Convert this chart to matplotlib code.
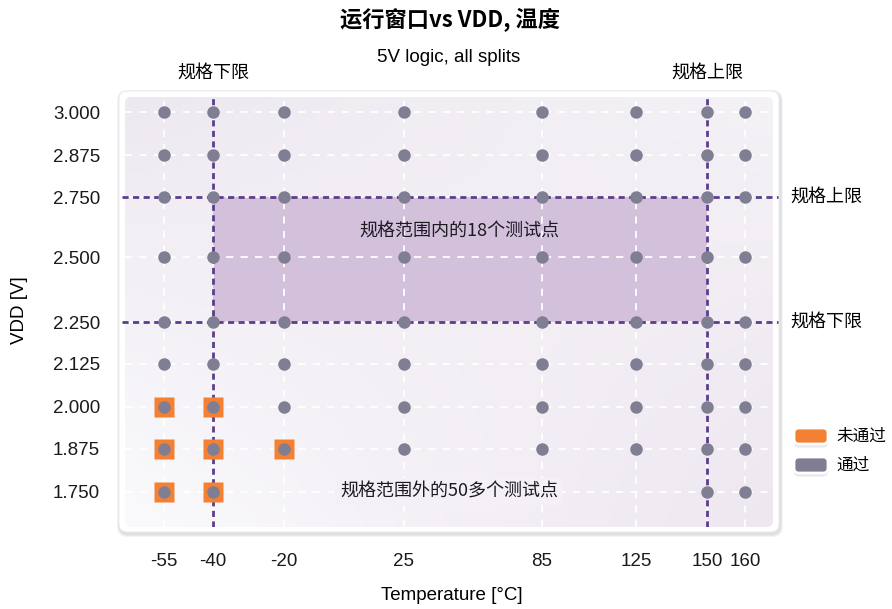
import numpy as np
import matplotlib
matplotlib.use("Agg")
import matplotlib.pyplot as plt
from matplotlib.patches import FancyBboxPatch
from matplotlib.transforms import blended_transform_factory

plt.rcParams["font.family"] = ["Liberation Sans", "Noto Sans CJK SC"]
cjk = ["Noto Sans CJK SC", "DejaVu Sans"]

# data
temps = [-55, -40, -20, 25, 85, 125, 150, 160]
vdds = [3.000, 2.875, 2.750, 2.500, 2.250, 2.125, 2.000, 1.875, 1.750]
# P = pass, F = fail, - = not tested (one row per vdd, one char per temp)
status = [
    "PPPPPPPP",
    "PPPPPPPP",
    "PPPPPPPP",
    "PPPPPPPP",
    "PPPPPPPP",
    "PPPPPPPP",
    "FFPPPPPP",
    "FFFPPPPP",
    "FF----PP",
]
temp_spec = [-40, 150]
vdd_spec = [2.25, 2.75]

# uneven axis spacing of the original (scale knots)
x_knots = [-70] + temps + [180]
x_units = [0, 49, 98, 169, 289, 427, 521, 592, 630, 706]
y_knots = [1.5] + vdds[::-1] + [3.25]
y_units = [0, 86, 129, 171, 214, 256, 321, 381, 423, 466, 552]

c_line = "#5c3d8d"
c_pass = "#7f7e92"
c_fail = "#f48034"

fig = plt.figure(figsize=(8.92, 6.09), dpi=100)
inch = fig.dpi_scale_trans

# card with soft shadow
for i, a in enumerate([0.05, 0.06, 0.08]):
    d = 0.03 - i * 0.008
    fig.add_artist(FancyBboxPatch((1.19 + 0.01, 0.77 - 0.02), 6.6, 4.41,
                                  boxstyle=f"round,pad={d},rounding_size=0.1",
                                  transform=inch, fc="#555566", ec="none", alpha=a, zorder=-3))
fig.add_artist(FancyBboxPatch((1.19, 0.77), 6.6, 4.41, boxstyle="round,pad=0,rounding_size=0.08",
                              transform=inch, fc="white", ec="#e8e6ec", lw=0.6, zorder=-2))

ax = fig.add_axes([125 / 892, 1 - 527 / 609, 648 / 892, 430 / 609])
ax.patch.set_visible(False)
ax.set_xscale("function", functions=(lambda v: np.interp(v, x_knots, x_units),
                                     lambda u: np.interp(u, x_units, x_knots)))
ax.set_yscale("function", functions=(lambda v: np.interp(v, y_knots, y_units),
                                     lambda u: np.interp(u, y_units, y_knots)))

# gradient background
tl, tr = np.array([238, 233, 241]), np.array([244, 242, 246])
bl, br = np.array([250, 250, 252]), np.array([238, 231, 240])


def bg(fx, fy):
    return ((1 - fy) * ((1 - fx) * tl + fx * tr) + fy * ((1 - fx) * bl + fx * br)) / 255


yy, xx = np.mgrid[0:1:120j, 0:1:160j]
grad = bg(xx[..., None], yy[..., None])
im = ax.imshow(grad, extent=[0, 1, 0, 1], transform=ax.transAxes, aspect="auto", zorder=0)
clip = FancyBboxPatch((1.25, 0.82), 6.48, 4.30, boxstyle="round,pad=0,rounding_size=0.06",
                      transform=inch, fc="none", ec="none")
im.set_clip_path(clip)

ax.set_xlim(-66.9, 167.4)
ax.set_ylim(1.648, 3.044)

# spec window
ax.fill_between(temp_spec, vdd_spec[0], vdd_spec[1], color="#d3c1dc", lw=0, zorder=1)

ax.set_xticks(temps)
ax.set_xticklabels([str(t) for t in temps])
ax.set_yticks(vdds)
ax.set_yticklabels([f"{v:.3f}" for v in vdds])
ax.tick_params(length=0, labelsize=13.5, colors="#1a1a1a")
ax.tick_params(axis="x", pad=19)
ax.tick_params(axis="y", pad=18)
ax.grid(True, color="white", lw=1.3, linestyle=(0, (4, 4)))
ax.set_axisbelow("line")
for s in ax.spines.values():
    s.set_visible(False)

for t in temp_spec:
    ax.axvline(t, color=c_line, lw=2, linestyle=(0, (2.2, 1.6)), zorder=2)
for v in vdd_spec:
    ax.axhline(v, xmin=-0.005, xmax=1.008, color=c_line, lw=2, linestyle=(0, (2.2, 1.6)),
               zorder=2, clip_on=False)

# test points
for v, row in zip(vdds, status):
    for t, s in zip(temps, row):
        if s == "-":
            continue
        if s == "F":
            ax.plot(t, v, marker="s", ms=15, color=c_fail, mec="none", zorder=3, clip_on=False)
        ax.plot(t, v, marker="o", ms=9, color=c_pass, mec="none", zorder=4, clip_on=False)

ax.text(49, 2.61, "规格范围内的18个测试点", family=cjk, fontsize=13, fontweight=500,
        ha="center", va="center", color="#1e1a22", zorder=5)
ax.text(44.6, 1.75, "规格范围外的50多个测试点", family=cjk, fontsize=13, fontweight=500,
        ha="center", va="center", color="#1e1a22", zorder=5,
        bbox=dict(boxstyle="square,pad=0.25", fc=bg(0.5, 0.92), ec="none"))

# spec labels
top = blended_transform_factory(ax.transData, ax.transAxes)
ax.text(-40, 1.056, "规格下限", transform=top, family=cjk, fontsize=13, ha="center", va="center")
ax.text(150, 1.056, "规格上限", transform=top, family=cjk, fontsize=13, ha="center", va="center")
side = blended_transform_factory(ax.transAxes, ax.transData)
ax.text(1.026, 2.75, "规格上限", transform=side, family=cjk, fontsize=13, ha="left", va="center")
ax.text(1.026, 2.25, "规格下限", transform=side, family=cjk, fontsize=13, ha="left", va="center")

# titles and axis labels
fig.text(450 / 892, 1 - 20 / 609, "运行窗口vs VDD, 温度", family=cjk, fontsize=16,
         fontweight=600, ha="center", va="center")
fig.text(449 / 892, 1 - 57 / 609, "5V logic, all splits", fontsize=13.5, ha="center", va="center")
fig.text(452 / 892, 1 - 596 / 609, "Temperature [°C]", fontsize=13.5, ha="center", va="center")
fig.text(19 / 892, 1 - 310 / 609, "VDD [V]", fontsize=13.5, rotation=90, ha="center", va="center")

# legend
for label, col, ypx in [("未通过", c_fail, 436), ("通过", c_pass, 465)]:
    y0 = (609 - ypx - 6) / 100
    fig.add_artist(FancyBboxPatch((7.96, y0 - 0.03), 0.30, 0.12,
                                  boxstyle="round,pad=0.025,rounding_size=0.06",
                                  transform=inch, fc="#666677", ec="none", alpha=0.15))
    fig.add_artist(FancyBboxPatch((7.96, y0), 0.30, 0.12,
                                  boxstyle="round,pad=0.02,rounding_size=0.05",
                                  transform=inch, fc=col, ec="white", lw=2))
    fig.text(836 / 892, 1 - ypx / 609, label, family=cjk, fontsize=12, ha="left", va="center")

fig.savefig("out.png", dpi=100)
